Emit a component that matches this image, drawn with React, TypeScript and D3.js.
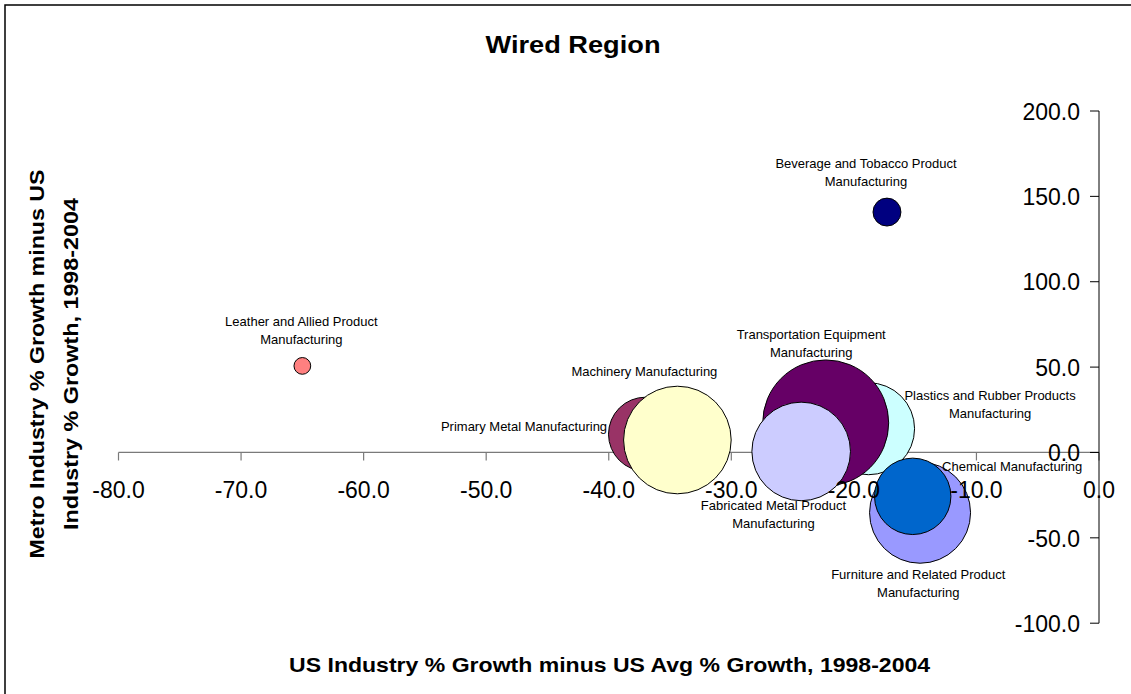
import React from "react";
import * as d3 from "d3";

// Industries shown as bubbles: x = US industry growth minus US average growth,
// y = metro industry growth minus US industry growth, size = relative employment.
const industries = [
  "Leather and Allied Product\nManufacturing",
  "Beverage and Tobacco Product\nManufacturing",
  "Primary Metal Manufacturing",
  "Machinery Manufacturing",
  "Plastics and Rubber Products\nManufacturing",
  "Transportation Equipment\nManufacturing",
  "Fabricated Metal Product\nManufacturing",
  "Furniture and Related Product\nManufacturing",
  "Chemical Manufacturing",
];
const usGrowthDiff = [-65.0, -17.3, -37.0, -34.4, -18.8, -22.3, -24.3, -14.6, -15.2];
const metroGrowthDiff = [50.7, 140.8, 10.7, 7.3, 13.9, 17.3, 0.6, -35.3, -25.7];
const employment = [140, 390, 2740, 5790, 4230, 7940, 4860, 5100, 2920];
const bubbleColors = [
  "#FF8080",
  "#000080",
  "#993366",
  "#FFFFCC",
  "#CCFFFF",
  "#660066",
  "#CCCCFF",
  "#9999FF",
  "#0066CC",
];

const xTickValues = d3.range(-80, 1, 10);
const yTickValues = d3.range(-100, 201, 50);

// Label placement relative to each bubble centre (first line), in pixels.
const labelOffsets: [number, number][] = [
  [-1, -44],
  [-21, -49],
  [-121.5, -7.6],
  [-33, -68.3],
  [121.5, -33],
  [-14.5, -88.3],
  [-27.7, 53.8],
  [-1.8, 61.6],
  [99.5, -29.6],
];

const FONT = "'Liberation Sans', Arial, Helvetica, sans-serif";
const W = 1131;
const H = 694;

// One decimal place, plain hyphen for negatives.
const fmt = (v: number) => v.toFixed(1);

export default function App() {
  const x = d3.scaleLinear().domain([-80, 0]).range([118.5, 1099]);
  const y = d3.scaleLinear().domain([-100, 200]).range([623.2, 111]);
  const r = d3
    .scaleSqrt()
    .domain([0, d3.max(employment) as number])
    .range([0, 63]);

  const x0 = x(0);
  const y0 = y(0);

  const points = industries.map((name, i) => ({
    name,
    cx: x(usGrowthDiff[i]),
    cy: y(metroGrowthDiff[i]),
    rad: r(employment[i]),
    color: bubbleColors[i],
    off: labelOffsets[i],
  }));

  return (
    <div>
      <style>{`body{margin:0;background:#fff}`}</style>
      <svg width={W} height={H} style={{ display: "block", fontFamily: FONT }}>
        <rect x={0} y={0} width={W} height={H} fill="#fff" />
        {/* chart area frame */}
        <rect
          x={5}
          y={5}
          width={W + 20}
          height={H + 20}
          fill="none"
          stroke="#000"
          strokeWidth={1.5}
        />

        {/* title */}
        <text
          x={573}
          y={53}
          textAnchor="middle"
          fontSize={24}
          fontWeight="bold"
          textLength={175}
          lengthAdjust="spacingAndGlyphs"
        >
          Wired Region
        </text>

        {/* x axis line and ticks */}
        <line x1={x(-80)} x2={x0} y1={y0} y2={y0} stroke="#7a7a7a" strokeWidth={1.2} />
        {xTickValues.map((t) => (
          <line
            key={"xt" + t}
            x1={x(t)}
            x2={x(t)}
            y1={y0}
            y2={y0 + 8}
            stroke="#7a7a7a"
            strokeWidth={1.2}
          />
        ))}

        {/* y axis line and ticks */}
        <line x1={x0} x2={x0} y1={y(200)} y2={y(-100)} stroke="#000" strokeWidth={1} />
        {yTickValues.map((t) => (
          <line
            key={"yt" + t}
            x1={x0 - 9}
            x2={x0}
            y1={y(t)}
            y2={y(t)}
            stroke="#000"
            strokeWidth={1}
          />
        ))}

        {/* bubbles */}
        {points.map((p, i) => (
          <circle
            key={"b" + i}
            cx={p.cx}
            cy={p.cy}
            r={p.rad}
            fill={p.color}
            stroke="#000"
            strokeWidth={1}
          />
        ))}

        {/* tick labels */}
        {xTickValues.map((t) => (
          <text
            key={"xl" + t}
            x={x(t)}
            y={y0 + 45.8}
            textAnchor="middle"
            fontSize={23}
            fill="#000"
          >
            {fmt(t)}
          </text>
        ))}
        {yTickValues.map((t) => (
          <text
            key={"yl" + t}
            x={x0 - 19}
            y={y(t)}
            dy="0.38em"
            textAnchor="end"
            fontSize={23}
            fill="#000"
          >
            {fmt(t)}
          </text>
        ))}

        {/* data labels */}
        {points.map((p, i) => {
          const lines = p.name.split("\n");
          return (
            <text
              key={"l" + i}
              x={p.cx + p.off[0]}
              y={p.cy + p.off[1]}
              textAnchor="middle"
              fontSize={13}
              fill="#000"
            >
              {lines.map((ln, j) => (
                <tspan key={j} x={p.cx + p.off[0]} dy={j === 0 ? "0.35em" : 18}>
                  {ln}
                </tspan>
              ))}
            </text>
          );
        })}

        {/* axis titles */}
        <text
          x={609.6}
          y={672}
          textAnchor="middle"
          fontSize={20.5}
          fontWeight="bold"
          textLength={641}
          lengthAdjust="spacingAndGlyphs"
        >
          US Industry % Growth minus US Avg % Growth, 1998-2004
        </text>
        <text
          transform="translate(43.5,364) rotate(-90)"
          textAnchor="middle"
          fontSize={20.5}
          fontWeight="bold"
          textLength={389}
          lengthAdjust="spacingAndGlyphs"
        >
          Metro Industry % Growth minus US
        </text>
        <text
          transform="translate(77.5,364) rotate(-90)"
          textAnchor="middle"
          fontSize={20.5}
          fontWeight="bold"
          textLength={332}
          lengthAdjust="spacingAndGlyphs"
        >
          Industry % Growth, 1998-2004
        </text>
      </svg>
    </div>
  );
}
